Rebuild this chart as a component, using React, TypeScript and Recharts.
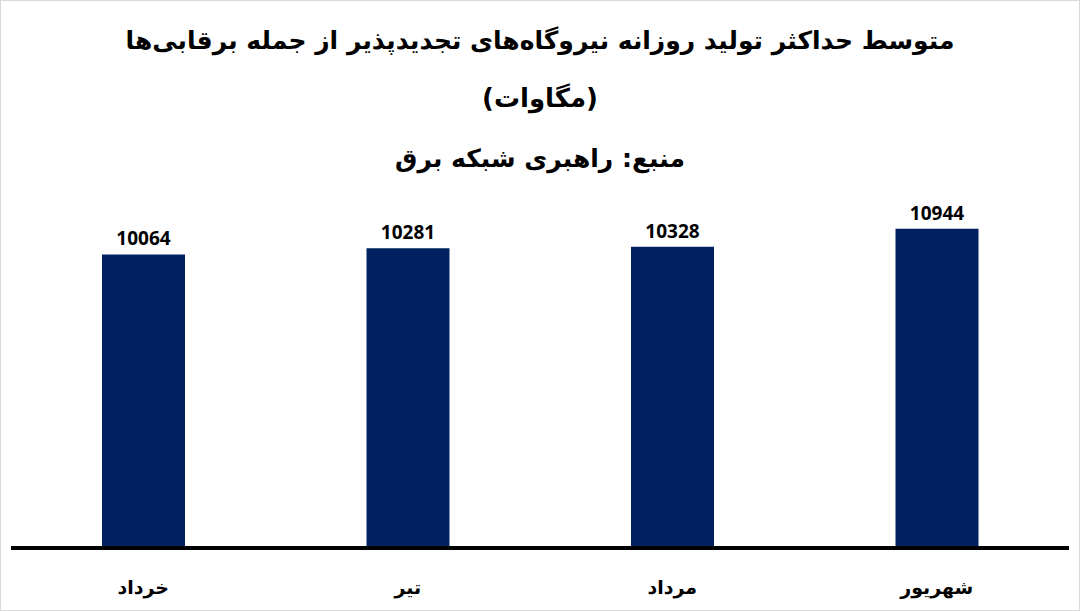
import React from "react";
import { BarChart, Bar, XAxis, YAxis, LabelList } from "recharts";

const months = ["خرداد", "تیر", "مرداد", "شهریور"];
const maxOutput = [10064, 10281, 10328, 10944];

const titleLines = [
  "متوسط حداکثر تولید روزانه نیروگاه\u200cهای تجدیدپذیر از جمله برقابی\u200cها",
  "(مگاوات)",
  "منبع: راهبری شبکه برق",
];

const data = months.map((m, i) => ({ month: m, value: maxOutput[i] }));

const FA_FONT = "'DejaVu Sans', 'Noto Sans', sans-serif";
const NUM_FONT = "'Open Sans', 'Noto Sans', sans-serif";

function MonthTick(props: any) {
  const { x, y, payload } = props;
  return (
    <text
      x={x}
      y={y + 38}
      textAnchor="middle"
      fontFamily={FA_FONT}
      fontWeight="bold"
      fontSize={19}
      fill="#000"
      direction="rtl"
    >
      {payload.value}
    </text>
  );
}

export default function App() {
  return (
    <div
      style={{
        position: "fixed",
        left: 0,
        top: 0,
        width: 1078,
        height: 609,
        background: "#fff",
        border: "1px solid #d9d9d9",
      }}
    >
      <div
        style={{
          position: "absolute",
          left: 0,
          top: 0,
          width: 1078,
          textAlign: "center",
          direction: "rtl",
          fontFamily: FA_FONT,
          fontWeight: "bold",
          color: "#000",
        }}
      >
        <div style={{ position: "absolute", top: 20, width: "100%", fontSize: 25, lineHeight: "40px" }}>
          {titleLines[0]}
        </div>
        <div style={{ position: "absolute", top: 77, width: "100%", fontSize: 26, lineHeight: "40px" }}>
          {titleLines[1]}
        </div>
        <div style={{ position: "absolute", top: 138, width: "100%", fontSize: 25, lineHeight: "40px" }}>
          {titleLines[2]}
        </div>
      </div>
      <div style={{ position: "absolute", left: -1, top: -1 }}>
        <BarChart
          width={1080}
          height={611}
          data={data}
          margin={{ top: 198, right: 11, bottom: 33, left: 11 }}
        >
          <XAxis
            dataKey="month"
            axisLine={{ stroke: "#000", strokeWidth: 4 }}
            tickLine={false}
            tick={<MonthTick />}
            interval={0}
          />
          <YAxis hide domain={[0, 12000]} />
          <Bar dataKey="value" fill="#002060" barSize={83} isAnimationActive={false}>
            <LabelList
              dataKey="value"
              position="top"
              offset={9}
              fontFamily={NUM_FONT}
              fontWeight="bold"
              fontSize={19}
              fill="#000"
            />
          </Bar>
        </BarChart>
      </div>
    </div>
  );
}
